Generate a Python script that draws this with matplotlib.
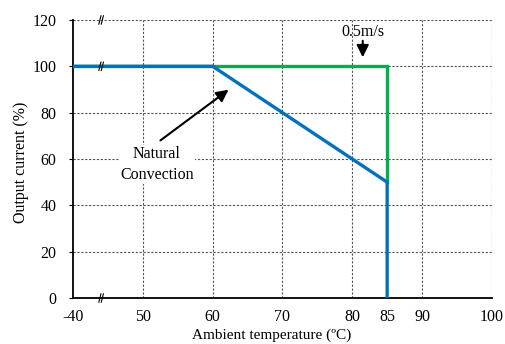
import numpy as np
import matplotlib.pyplot as plt

plt.rcParams['font.family'] = 'Liberation Serif'

# data
natural_x = [40, 60, 85, 85]
natural_y = [100, 100, 50, 0]
air_x = [40, 60, 85, 85]
air_y = [100, 100, 100, 50]

xticks = [40, 50, 60, 70, 80, 85, 90, 100]
xlabels = ['-40', '50', '60', '70', '80', '85', '90', '100']
yticks = [0, 20, 40, 60, 80, 100, 120]
grid_x = [50, 60, 70, 80, 90, 100]
grid_y = [20, 40, 60, 80, 100, 120]

fig = plt.figure(figsize=(5.05, 3.44), dpi=100)
ax = fig.add_axes([0.1446, 0.1337, 0.8294, 0.8083])

ax.set_xlim(40, 100)
ax.set_ylim(0, 120)

# dashed grid
for gx in grid_x:
    ax.axvline(gx, color='#555555', ls=(0, (2, 1.5)), lw=0.8, zorder=1)
for gy in grid_y:
    ax.axhline(gy, color='#555555', ls=(0, (2, 1.5)), lw=0.8, zorder=1)

ax.spines['top'].set_visible(False)
ax.spines['right'].set_visible(False)
ax.spines['left'].set_linewidth(1.3)
ax.spines['bottom'].set_linewidth(1.3)

ax.plot(air_x, air_y, color='#00B050', lw=2.4, zorder=3, solid_joinstyle='miter')
ax.plot(natural_x, natural_y, color='#0070C0', lw=2.4, zorder=4, solid_joinstyle='miter')

ax.set_xticks(xticks)
ax.set_xticklabels(xlabels, fontsize=11.5)
ax.set_yticks(yticks)
ax.tick_params(axis='x', length=0, pad=8)
ax.tick_params(axis='y', length=3, direction='out', labelsize=11.5, pad=9)

ax.set_xlabel('Ambient temperature (ºC)', fontsize=11)
ax.xaxis.set_label_coords(0.475, -0.11)
ax.set_ylabel('Output current (%)', fontsize=11.5)
ax.yaxis.set_label_coords(-0.105, 0.489)

# axis break marks
for by in [0, 100, 120]:
    for dx in [-0.35, 0.0]:
        ax.plot([44.2 + dx - 0.15, 44.2 + dx + 0.15], [by - 1.8, by + 1.8],
                color='black', lw=0.8, clip_on=False, zorder=5)

ax.annotate('', xy=(81.5, 102.7), xytext=(81.5, 112.2),
            arrowprops=dict(arrowstyle='-|>', color='black', lw=1.5,
                            mutation_scale=18))
ax.text(81.6, 114.8, '0.5m/s', ha='center', va='center', fontsize=11.5)

ax.annotate('', xy=(62.6, 90.6), xytext=(52.2, 67.3),
            arrowprops=dict(arrowstyle='-|>', color='black', lw=1.5,
                            mutation_scale=18))
ax.text(52.0, 57.6, 'Natural\nConvection', ha='center', va='center',
        fontsize=11.5, linespacing=1.4,
        bbox=dict(facecolor='white', edgecolor='none', pad=1))

fig.savefig('out.png', dpi=100)
